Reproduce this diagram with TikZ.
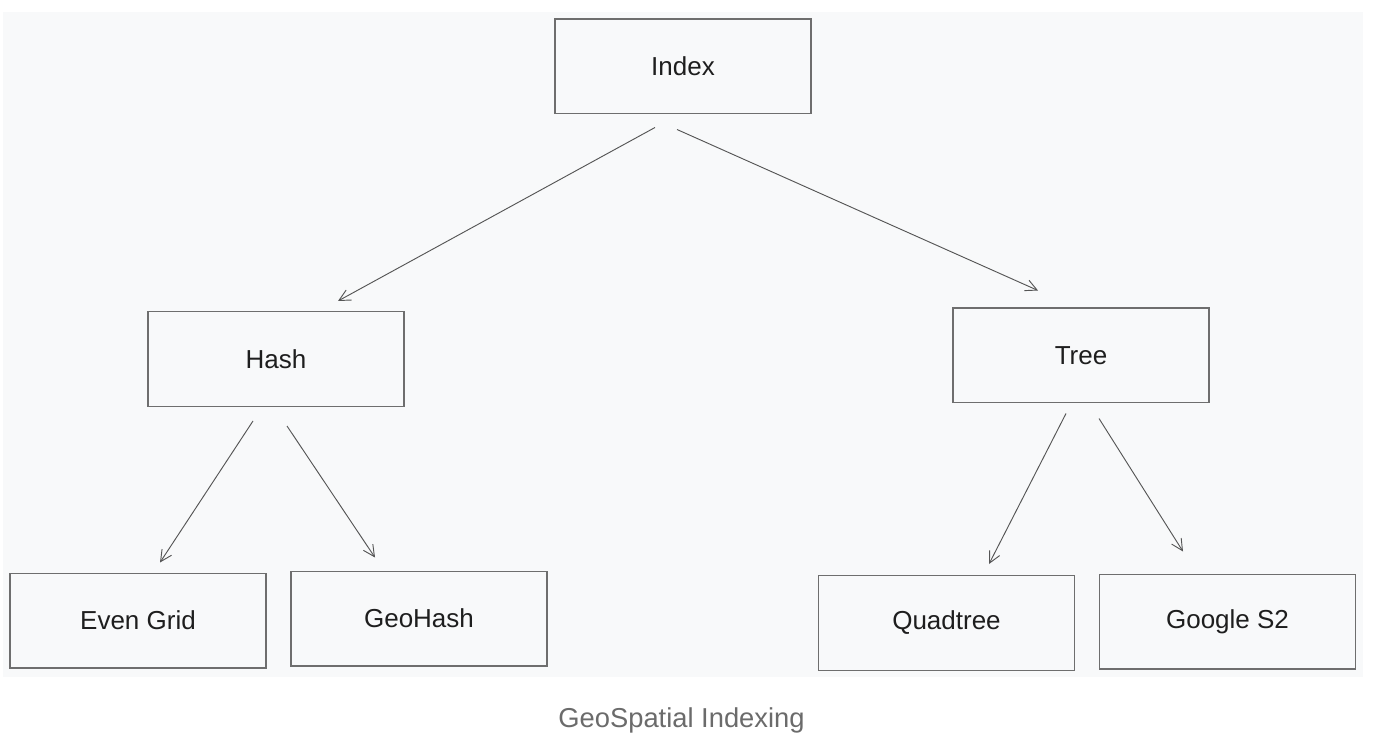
\documentclass[tikz,border=0pt]{standalone}
\usepackage{fontspec}
\setmainfont{Liberation Sans}
\usetikzlibrary{arrows.meta,calc}
\definecolor{canvas}{HTML}{F8F9FA}
\definecolor{boxline}{HTML}{6E6E6E}
\definecolor{arrowline}{HTML}{555555}
\definecolor{inktext}{HTML}{1E1E1E}
\definecolor{captiongray}{HTML}{6B6B6B}
\tikzset{
  box/.style={draw=boxline, line width=1pt, minimum width=192pt, minimum height=71pt,
    inner sep=0pt, font=\fontsize{19.5}{22}\selectfont, text=inktext},
  arr/.style={draw=arrowline, line width=0.7pt,
    -{Straight Barb[length=8.5pt,width=8.5pt,line width=0.7pt]}},
  caption/.style={font=\fontsize{20.5}{24}\selectfont, text=captiongray, inner sep=0pt}
}
\begin{document}
\begin{tikzpicture}[x=0.75pt,y=-0.75pt]
\useasboundingbox (0,0) rectangle (1396,748);
\fill[white] (0,0) rectangle (1396,748);
\fill[canvas] (3,12) rectangle (1363,677);

\node[box] (index) at (683,66.5) {Index};
\node[box] (hash) at (276,359) {Hash};
\node[box] (tree) at (1081,355.5) {Tree};
\node[box] (even) at (138,620.5) {Even Grid};
\node[box] (geohash) at (419,618.5) {GeoHash};
\node[box] (quad) at (946.5,623) {Quadtree};
\node[box] (s2) at (1227.5,621.5) {Google S2};

\draw[arr] ([shift={(-28,13)}]index.south) -- ([shift={(62,-10)}]hash.north);
\draw[arr] ([shift={(-6,15)}]index.south) -- ([shift={(-43,-17)}]tree.north);
\draw[arr] ([shift={(-23,14)}]hash.south) -- ([shift={(22,-10)}]even.north);
\draw[arr] ([shift={(11,19)}]hash.south) -- ([shift={(-44,-13)}]geohash.north);
\draw[arr] ([shift={(-15,10)}]tree.south) -- ([shift={(42.5,-11)}]quad.north);
\draw[arr] ([shift={(18,15)}]tree.south) -- ([shift={(-44.5,-22)}]s2.north);

\node[caption, anchor=base] (cap) at (681.5,727) {GeoSpatial Indexing};
\end{tikzpicture}
\end{document}
